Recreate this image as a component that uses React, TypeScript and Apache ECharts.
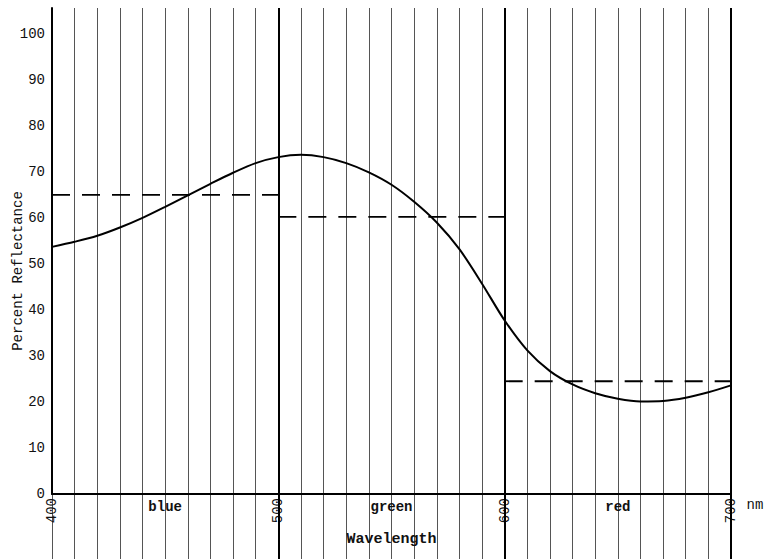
import React, { useEffect, useRef } from "react";
import * as echarts from "echarts";

const wavelengths = [400, 410, 420, 430, 440, 450, 460, 470, 480, 490, 500, 510, 520, 530, 540, 550, 560, 570, 580, 590, 600, 610, 620, 630, 640, 650, 660, 670, 680, 690, 700];
const reflectance = [53.7, 54.8, 56.1, 57.9, 60.0, 62.4, 64.9, 67.4, 69.8, 71.9, 73.2, 73.7, 73.2, 71.9, 69.9, 67.2, 63.5, 59.0, 53.2, 45.7, 37.7, 31.2, 26.7, 23.8, 21.9, 20.7, 20.1, 20.2, 20.9, 22.1, 23.6];

const bandNames = ["blue", "green", "red"];
const bandCenters = [450, 550, 650];
const bandStarts = [400, 500, 600];
const bandEnds = [500, 600, 700];
const bandAverages = [65, 60.2, 24.5];
const boldLines = [500, 600, 700];
const yTicksMax = 100;

const FONT = "'Liberation Mono', 'DejaVu Sans Mono', monospace";

export default function App() {
  const ref = useRef<HTMLDivElement>(null);
  useEffect(() => {
    document.body.style.margin = "0";
    const chart = echarts.init(ref.current!, null, { renderer: "svg" });
    const dashSeries = bandNames.map((name, i) => ({
      type: "line",
      name: name + " average",
      xAxisIndex: 0,
      yAxisIndex: 0,
      data: [
        [bandStarts[i], bandAverages[i]],
        [bandEnds[i], bandAverages[i]],
      ],
      symbol: "none",
      lineStyle: { color: "#000", width: 1.8, type: [18, 12] },
      z: 4,
    }));
    const boldMark = {
      symbol: "none",
      silent: true,
      label: { show: false },
      lineStyle: { color: "#000", width: 2, type: "solid" },
      data: boldLines.map((v) => ({ xAxis: v })),
    };
    chart.setOption({
      animation: false,
      backgroundColor: "#fff",
      grid: [
        { left: 52, right: 37, top: 8, height: 486 },
        { left: 52, right: 37, top: 494, height: 65 },
      ],
      xAxis: [
        {
          gridIndex: 0,
          type: "value",
          min: 400,
          max: 700,
          interval: 10,
          axisLine: { show: true, lineStyle: { color: "#000", width: 2 } },
          axisTick: { show: false },
          axisLabel: {
            rotate: 90,
            margin: 4,
            fontFamily: FONT,
            fontSize: 14,
            color: "#111",
            formatter: (v: number) => (v % 100 === 0 ? String(v) : ""),
          },
          splitLine: { show: true, lineStyle: { color: "#555", width: 1 } },
          name: "Wavelength",
          nameLocation: "middle",
          nameGap: 38,
          nameTextStyle: { fontFamily: FONT, fontSize: 15, fontWeight: "bold", color: "#111" },
        },
        {
          gridIndex: 1,
          type: "value",
          min: 400,
          max: 700,
          interval: 10,
          axisLine: { show: false },
          axisTick: { show: false },
          axisLabel: { show: false },
          splitLine: { show: true, lineStyle: { color: "#555", width: 1 } },
        },
        {
          gridIndex: 1,
          type: "value",
          position: "top",
          min: 400,
          max: 700,
          interval: 50,
          axisLine: { show: false },
          axisTick: { show: false },
          splitLine: { show: false },
          axisLabel: {
            inside: true,
            margin: 6,
            fontFamily: FONT,
            fontSize: 14,
            fontWeight: "bold",
            color: "#111",
            formatter: (v: number) => {
              const i = bandCenters.indexOf(v);
              return i >= 0 ? bandNames[i] : "";
            },
          },
        },
      ],
      yAxis: [
        {
          gridIndex: 0,
          type: "value",
          min: 0,
          max: 105.6,
          interval: 10,
          axisLine: { show: true, lineStyle: { color: "#000", width: 2 } },
          axisTick: { show: false },
          splitLine: { show: false },
          axisLabel: {
            margin: 7,
            fontFamily: FONT,
            fontSize: 14,
            color: "#111",
            showMaxLabel: false,
            formatter: (v: number) => (v <= yTicksMax ? String(v) : ""),
          },
        },
        { gridIndex: 1, type: "value", min: 0, max: 1, show: false },
      ],
      graphic: [
        {
          type: "text",
          x: 18,
          y: 271,
          rotation: Math.PI / 2,
          style: {
            text: "Percent Reflectance",
            fontFamily: FONT,
            fontSize: 14,
            fill: "#111",
            align: "center",
            verticalAlign: "middle",
          },
        },
        {
          type: "text",
          x: 755,
          y: 505,
          style: {
            text: "nm",
            fontFamily: FONT,
            fontSize: 14,
            fill: "#111",
            align: "center",
            verticalAlign: "middle",
          },
        },
      ],
      series: [
        {
          type: "line",
          name: "reflectance",
          xAxisIndex: 0,
          yAxisIndex: 0,
          data: wavelengths.map((w, i) => [w, reflectance[i]]),
          smooth: 0.3,
          symbol: "none",
          lineStyle: { color: "#000", width: 2 },
          z: 5,
          markLine: boldMark,
        },
        ...dashSeries,
        {
          type: "line",
          name: "ext",
          xAxisIndex: 1,
          yAxisIndex: 1,
          data: [[400, 0]],
          symbol: "none",
          lineStyle: { opacity: 0 },
          markLine: boldMark,
        },
      ],
    });
    return () => chart.dispose();
  }, []);
  return <div ref={ref} style={{ width: 768, height: 559 }} />;
}
